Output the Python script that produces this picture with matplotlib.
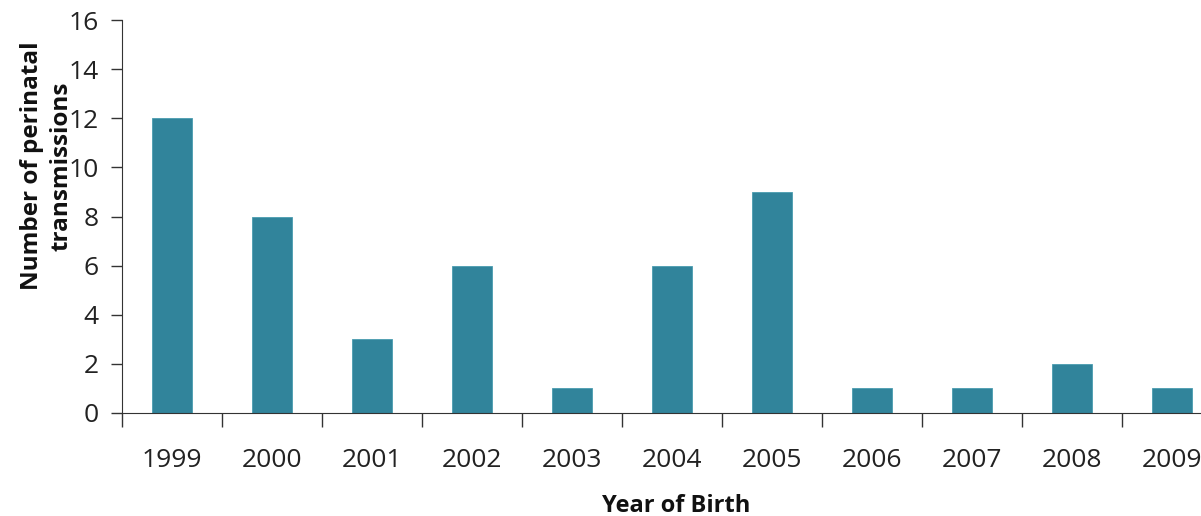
import numpy as np
import matplotlib
matplotlib.use('Agg')
import matplotlib.pyplot as plt

years = ['1999', '2000', '2001', '2002', '2003', '2004', '2005', '2006', '2007', '2008', '2009']
counts = [12, 8, 3, 6, 1, 6, 9, 1, 1, 2, 1]

plt.rcParams['font.family'] = ['Open Sans', 'DejaVu Sans']

fig = plt.figure(figsize=(12.01, 5.16), dpi=100)
ax = fig.add_axes([122/1201, 103/516, 1100/1201, 393/516])

x = np.arange(len(years))
ax.bar(x, counts, width=0.4, color='#31849B', edgecolor='#4a9cb0', linewidth=0.6, zorder=2)

ax.set_xlim(-0.5, len(years) - 0.5)
ax.set_ylim(0, 16)
ax.set_yticks(range(0, 17, 2))
ax.tick_params(axis='y', labelsize=19, length=8, width=1, color='#333333', pad=9, labelcolor='#222222')

ax.set_xticks(x)
ax.set_xticklabels(years)
ax.set_xticks(np.arange(-0.5, len(years), 1), minor=True)
ax.tick_params(axis='x', which='major', length=0, labelsize=19, pad=25, labelcolor='#222222')
ax.tick_params(axis='x', which='minor', length=10, width=1, color='#333333')

for s in ['top', 'right']:
    ax.spines[s].set_visible(False)
ax.spines['left'].set_color('#333333')
ax.spines['bottom'].set_color('#333333')

fig.text(0.039, 1 - 166/516, 'Number of perinatal\ntransmissions', rotation=90,
         ha='center', va='center', fontsize=17.5, fontweight='bold', color='#111111',
         multialignment='center', linespacing=1.35)
fig.text(676/1201, 1 - 506/516, 'Year of Birth', ha='center', va='center',
         fontsize=17, fontweight='bold', color='#111111')

fig.savefig('out.png', dpi=100)
